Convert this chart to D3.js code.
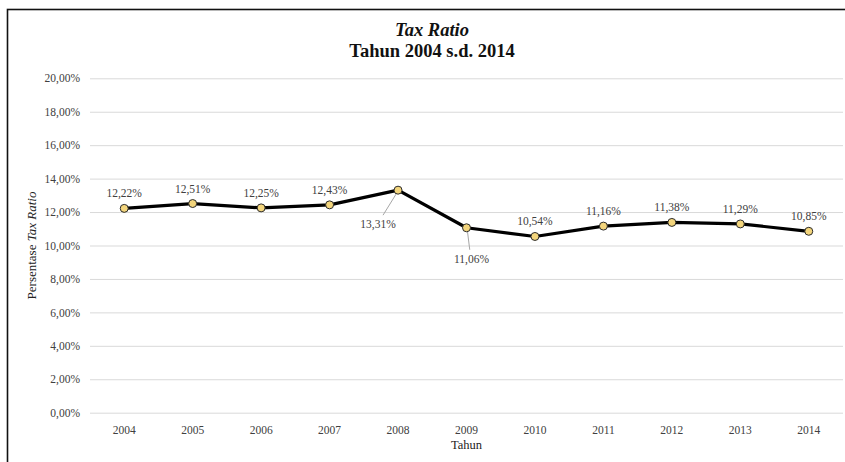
<!DOCTYPE html>
<html>
<head>
<meta charset="utf-8">
<script src="https://cdn.jsdelivr.net/npm/d3@7"></script>
<style>
  html, body { margin: 0; padding: 0; background: #fff; }
  svg { display: block; }
  svg text { font-family: "Liberation Serif", "Times New Roman", serif; }
</style>
</head>
<body>
<svg id="chart" width="845" height="462"></svg>
<script>
// Tax ratio, 2004–2014
const years = ["2004", "2005", "2006", "2007", "2008", "2009", "2010", "2011", "2012", "2013", "2014"];
const taxRatio = [12.22, 12.51, 12.25, 12.43, 13.31, 11.06, 10.54, 11.16, 11.38, 11.29, 10.85];
const yTicks = [0, 2, 4, 6, 8, 10, 12, 14, 16, 18, 20];

const svg = d3.select("#chart");
const plot = { left: 90, right: 843, top: 78.3, bottom: 412.7 };

// Frame of the chart area (extends past the right/bottom edges of the window)
svg.append("rect")
  .attr("x", 7.5).attr("y", 9.5)
  .attr("width", 880).attr("height", 480)
  .attr("fill", "none").attr("stroke", "#111").attr("stroke-width", 1.6);

const x = d3.scaleBand().domain(years).range([plot.left, plot.right]).padding(0);
const y = d3.scaleLinear().domain([0, 20]).range([plot.bottom, plot.top]);

const fmt = v => v.toFixed(2).replace(".", ",") + "%";

// Horizontal gridlines + y tick labels
const yAxis = d3.axisLeft(y).tickValues(yTicks).tickSize(-(plot.right - plot.left)).tickPadding(10).tickFormat(fmt);
const gy = svg.append("g").attr("transform", `translate(${plot.left},0)`).call(yAxis);
gy.select(".domain").remove();
gy.selectAll(".tick line").attr("stroke", "#d9d9d9").attr("stroke-width", 1);
gy.selectAll(".tick text").attr("fill", "#404040").attr("font-size", 11.5);

// x tick labels
const xAxis = d3.axisBottom(x).tickSize(0).tickPadding(13);
const gx = svg.append("g").attr("transform", `translate(0,${plot.bottom})`).call(xAxis);
gx.select(".domain").remove();
gx.selectAll(".tick text").attr("fill", "#404040").attr("font-size", 11.5);

// Axis titles
svg.append("text")
  .attr("x", (plot.left + plot.right) / 2).attr("y", 449)
  .attr("text-anchor", "middle").attr("font-size", 12.5).attr("fill", "#222")
  .text("Tahun");

const yt = svg.append("text")
  .attr("transform", `translate(36,${(plot.top + plot.bottom) / 2}) rotate(-90)`)
  .attr("text-anchor", "middle").attr("font-size", 13).attr("fill", "#222");
yt.append("tspan").text("Persentase ");
yt.append("tspan").attr("font-style", "italic").text("Tax Ratio");

// Title
svg.append("text")
  .attr("x", 432).attr("y", 36)
  .attr("text-anchor", "middle").attr("font-size", 18.5)
  .attr("font-weight", "bold").attr("font-style", "italic").attr("fill", "#111")
  .text("Tax Ratio");
svg.append("text")
  .attr("x", 432).attr("y", 57)
  .attr("text-anchor", "middle").attr("font-size", 18.5)
  .attr("font-weight", "bold").attr("fill", "#111")
  .text("Tahun 2004 s.d. 2014");

const data = years.map((yr, i) => ({ year: yr, value: taxRatio[i] }));
const cx = d => x(d.year) + x.bandwidth() / 2;

// Line
svg.append("path")
  .datum(data)
  .attr("fill", "none").attr("stroke", "#000").attr("stroke-width", 3.2)
  .attr("stroke-linejoin", "round")
  .attr("d", d3.line().x(cx).y(d => y(d.value)));

// Value labels: most sit above their marker; two are pulled out with a leader line
const labelShift = { "2008": { dx: -20, dy: 34, leader: true }, "2009": { dx: 5, dy: 31, leader: true } };

data.forEach(d => {
  const s = labelShift[d.year];
  if (s && s.leader) {
    const px = cx(d), py = y(d.value);
    svg.append("line")
      .attr("x1", px + (s.dx < 0 ? -2 : 1)).attr("y1", py + 4)
      .attr("x2", px + s.dx * 0.85 + (s.dx < 0 ? 2 : -1)).attr("y2", py + s.dy - 9)
      .attr("stroke", "#a6a6a6").attr("stroke-width", 1);
  }
});

// Markers
svg.append("g").selectAll("circle")
  .data(data).join("circle")
  .attr("cx", cx).attr("cy", d => y(d.value)).attr("r", 4)
  .attr("fill", "#f3d57c").attr("stroke", "#2b2b2b").attr("stroke-width", 1);

svg.append("g").selectAll("text")
  .data(data).join("text")
  .attr("x", d => cx(d) + (labelShift[d.year] ? labelShift[d.year].dx : 0))
  .attr("y", d => y(d.value) + (labelShift[d.year] ? labelShift[d.year].dy : -15))
  .attr("dy", "0.35em")
  .attr("text-anchor", "middle").attr("font-size", 11.5).attr("fill", "#404040")
  .text(d => fmt(d.value));
</script>
</body>
</html>
